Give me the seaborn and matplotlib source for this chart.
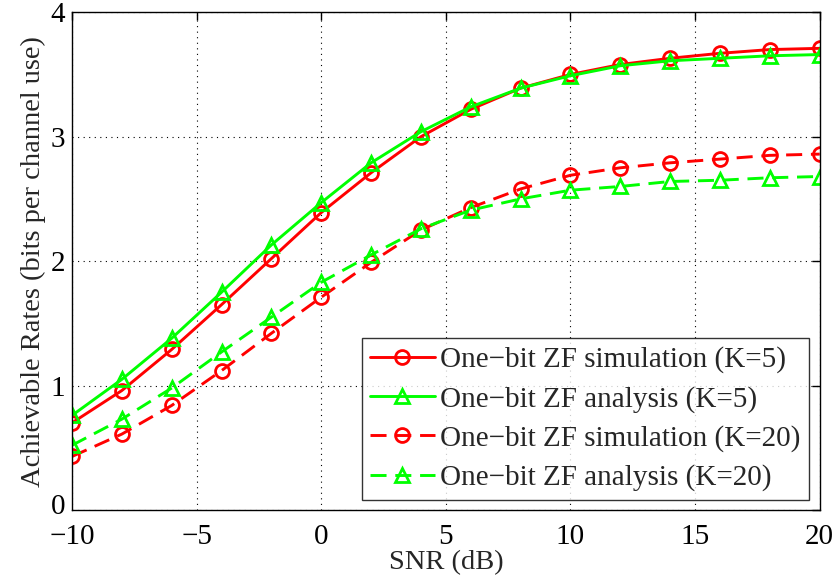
import matplotlib
matplotlib.use("Agg")
import matplotlib.pyplot as plt
import matplotlib.transforms as mtrans
import seaborn as sns
import pandas as pd

snr = [-10, -8, -6, -4, -2, 0, 2, 4, 6, 8, 10, 12, 14, 16, 18, 20]
sim_k5 = [0.70, 0.96, 1.29, 1.65, 2.02, 2.39, 2.71, 3.00, 3.22, 3.39, 3.50, 3.58, 3.63, 3.67, 3.70, 3.71]
ana_k5 = [0.76, 1.05, 1.38, 1.75, 2.13, 2.47, 2.79, 3.04, 3.24, 3.39, 3.49, 3.57, 3.61, 3.63, 3.65, 3.66]
sim_k20 = [0.43, 0.61, 0.84, 1.12, 1.42, 1.71, 1.99, 2.25, 2.43, 2.58, 2.69, 2.75, 2.79, 2.82, 2.85, 2.86]
ana_k20 = [0.52, 0.73, 0.98, 1.27, 1.55, 1.83, 2.05, 2.26, 2.41, 2.50, 2.57, 2.60, 2.64, 2.65, 2.67, 2.68]

labels = ["One\u2212bit ZF simulation (K=5)", "One\u2212bit ZF analysis (K=5)",
          "One\u2212bit ZF simulation (K=20)", "One\u2212bit ZF analysis (K=20)"]
series = [sim_k5, ana_k5, sim_k20, ana_k20]

sns.set_style("white")
plt.rcParams['font.family'] = ['Liberation Serif', 'DejaVu Serif']

fig = plt.figure(figsize=(8.39, 5.83), dpi=100)
ax = fig.add_axes([0.0858, 0.1252, 0.8912, 0.8538])

dash = (0, (5.5, 3))
styles = [("red", "o", "-"), ("lime", "^", "-"), ("red", "o", dash), ("lime", "^", dash)]
for lab, vals, (c, m, ls) in zip(labels, series, styles):
    df = pd.DataFrame({"SNR": snr, "rate": vals})
    sns.lineplot(data=df, x="SNR", y="rate", ax=ax, color=c, marker=m, linestyle=ls,
                 linewidth=2.1, markersize=10, markerfacecolor="none", markeredgecolor=c,
                 markeredgewidth=2, label=lab)

ax.set_xlim(-10, 20)
ax.set_ylim(0, 4)
ax.set_xticks([-10, -5, 0, 5, 10, 15, 20])
ax.set_xticklabels(["\u221210", "\u22125", "0", "5", "10", "15", "20"])
ax.set_yticks([0, 1, 2, 3, 4])
ax.grid(True, linestyle=(0, (1, 4)), color="black", linewidth=0.8)
ax.tick_params(direction="in", length=6, width=1, labelsize=21, top=True, right=True, colors="black")
ax.tick_params(axis="x", pad=10)
ax.tick_params(axis="y", pad=5)
for s in ax.spines.values():
    s.set_color("black")
    s.set_linewidth(1)
ax.set_xlabel("SNR (dB)", fontsize=20.5, labelpad=0)
ax.set_ylabel("Achievable Rates (bits per channel use)", fontsize=20.5, labelpad=3)

# nudge the lowest y tick label up a little so it clears the x tick label below it
zero_lab = ax.get_yticklabels()[0]
zero_lab.set_transform(zero_lab.get_transform() + mtrans.ScaledTranslation(0, 4 / 72, fig.dpi_scale_trans))

leg = ax.legend(loc="lower right", fontsize=21, frameon=True, fancybox=False, edgecolor="black",
                handlelength=2.2, borderpad=0.3, labelspacing=0.42, handletextpad=0.2,
                borderaxespad=0.35)
leg.get_frame().set_linewidth(1)
fig.savefig("out.png", dpi=100)
